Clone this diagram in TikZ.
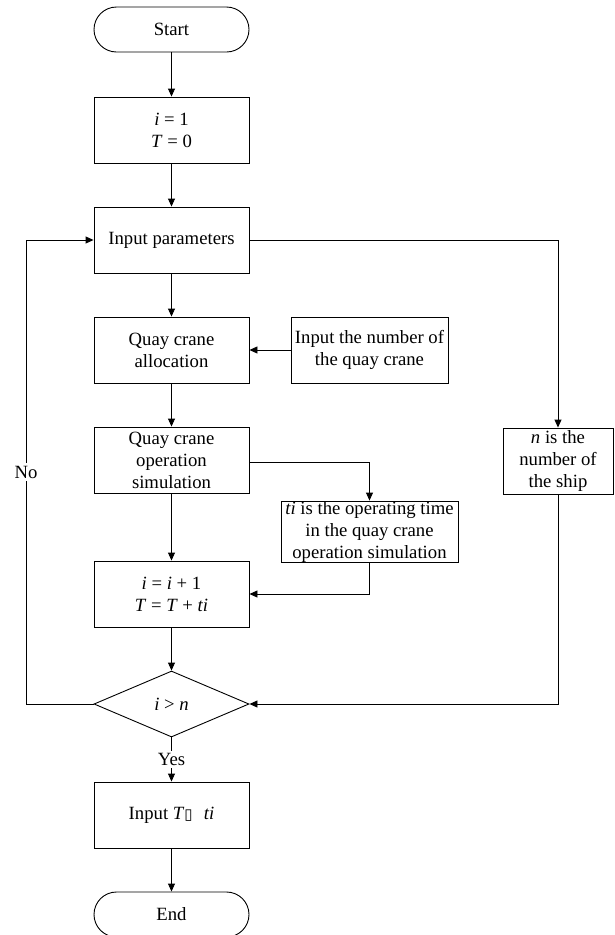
\documentclass[tikz,border=0pt]{standalone}
\usepackage{fontspec}
\setmainfont{Liberation Serif}
\newfontfamily\symfont{DejaVu Sans}
\usetikzlibrary{arrows.meta,shapes.geometric,calc}
\begin{document}
\begin{tikzpicture}[x=1pt,y=-1pt,
  every node/.style={font=\fontsize{18.7}{22}\selectfont, inner sep=0pt, align=center},
  box/.style={draw, line width=0.9pt, minimum width=155pt, minimum height=66pt},
  term/.style={draw, line width=0.9pt, rounded corners=22.5pt, minimum width=155pt, minimum height=45pt},
  dec/.style={draw, line width=0.9pt, diamond, minimum width=155pt, minimum height=66pt},
  conn/.style={line width=0.9pt, -{Triangle[length=8pt,width=7pt]}},
  plain/.style={line width=0.9pt}]
\useasboundingbox (0,0) rectangle (614,935);
\node[term] (start) at (171.5,29.5) {Start};
\node[box] (init) at (171.5,130) {\textit{i} = 1\\\textit{T} = 0};
\node[box] (params) at (171.5,240) {Input parameters};
\node[box] (alloc) at (171.5,350) {Quay crane\\allocation};
\node[box, minimum width=157pt] (inputnum) at (369.5,350) {Input the number of\\the quay crane};
\node[box] (sim) at (171.5,460) {Quay crane\\operation\\simulation};
\node[box, minimum width=177pt, minimum height=57pt] (ti) at (369.5,531.5) {\textit{ti} is the operating time\\in the quay crane\\operation simulation};
\node[box] (inc) at (171.5,594) {\textit{i} = \textit{i} + 1\\\textit{T} = \textit{T} + \textit{ti}};
\node[box, minimum width=110pt] (nbox) at (558,461) {\textit{n} is the\\number of\\the ship};
\node[dec] (dia) at (171.5,704) {\textit{i} > \textit{n}};
\node[box] (out) at (171.5,815) {Input \textit{T}{\symfont\fontsize{15}{18}\selectfont ▯}\hspace{0.6em}\textit{ti}};
\node[term] (end) at (171.5,914.5) {End};
\draw[conn] (start) -- (init);
\draw[conn] (init) -- (params);
\draw[conn] (params) -- (alloc);
\draw[conn] (inputnum) -- (alloc);
\draw[conn] (alloc) -- (sim);
\draw[conn] ($(sim.east)+(0,2)$) -| (ti.north);
\draw[conn] (sim) -- (inc);
\draw[conn] (ti.south) |- (inc.east);
\draw[conn] (inc.south) -- (dia.north);
\draw[conn] (out) -- (end);
\draw[conn] (dia.south) -- node[fill=white, inner ysep=2pt] {Yes} (out.north);
\draw[conn] (dia.west) -- (26,704) -- node[pos=0.5, fill=white, inner ysep=3pt, inner xsep=0pt] {No} (26,240) -- (params.west);
\draw[conn] (params.east) -| (nbox.north);
\draw[conn] (nbox.south) |- (dia.east);
\end{tikzpicture}
\end{document}
